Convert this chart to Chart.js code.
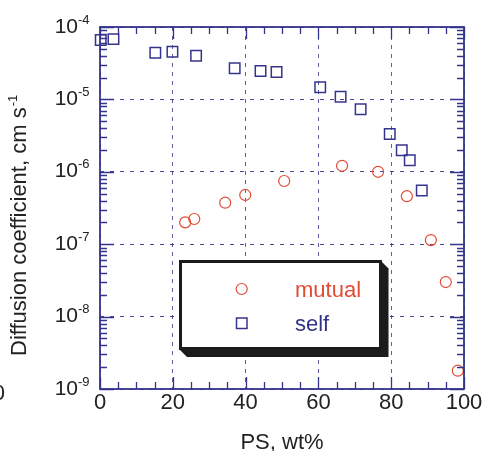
<!DOCTYPE html>
<html>
<head>
<meta charset="utf-8">
<script src="https://cdn.jsdelivr.net/npm/chart.js@4/dist/chart.umd.min.js"></script>
<style>
  html, body { margin: 0; padding: 0; background: #fff; }
  canvas { display: block; }
</style>
</head>
<body>
<canvas id="chart" width="486" height="451"></canvas>
<script>
// PS wt% / diffusion coefficient (cm2 s-1)
const mutualX = [23.4, 25.9, 34.4, 39.9, 50.6, 66.5, 76.4, 84.3, 90.9, 95.0, 98.3];
const mutualY = [2.0e-7, 2.23e-7, 3.74e-7, 4.79e-7, 7.46e-7, 1.21e-6, 1.0e-6, 4.6e-7, 1.14e-7, 3.0e-8, 1.79e-9];
const selfX = [0.2, 3.7, 15.2, 19.9, 26.4, 37.0, 44.1, 48.5, 60.5, 66.1, 71.6, 79.6, 82.9, 85.1, 88.4];
const selfY = [6.6e-5, 6.8e-5, 4.4e-5, 4.56e-5, 4.0e-5, 2.7e-5, 2.47e-5, 2.39e-5, 1.47e-5, 1.09e-5, 7.3e-6, 3.33e-6, 1.98e-6, 1.44e-6, 5.5e-7];
const seriesNames = ["mutual", "self"];
const xTicks = [0, 20, 40, 60, 80, 100];
const yExponents = [-4, -5, -6, -7, -8, -9];
const xTitle = "PS, wt%";
const yTitle = "Diffusion coefficient, cm s";
const yTitleSup = "-1";

const RED = "#e24a34";
const NAVY = "#34348c";
const TEXT = "#222";
const FONT = "'Liberation Sans', Arial, sans-serif";

const toPoints = (xs, ys) => xs.map((x, i) => ({ x, y: ys[i] }));

// ticks, frame, labels, titles and legend box
const decor = {
  id: "decor",
  afterDatasetsDraw(chart) {
    const { ctx, chartArea: a } = chart;
    const xs = chart.scales.x;
    const ys = chart.scales.y;
    ctx.save();
    ctx.strokeStyle = NAVY;
    ctx.lineWidth = 1.3;
    ctx.beginPath();
    // x minor / major ticks on top and bottom
    for (let v = 0; v <= 100; v += 5) {
      const px = Math.round(xs.getPixelForValue(v)) + 0.5;
      const len = v % 20 === 0 ? 12 : 7;
      ctx.moveTo(px, a.bottom); ctx.lineTo(px, a.bottom - len);
      ctx.moveTo(px, a.top); ctx.lineTo(px, a.top + len);
    }
    // y ticks on left and right
    for (let e = -9; e <= -4; e++) {
      for (let m = 1; m <= 9; m++) {
        const v = m * Math.pow(10, e);
        if (v > 1.0001e-4) break;
        const py = Math.round(ys.getPixelForValue(v)) + 0.5;
        const len = m === 1 ? 14 : 7;
        ctx.moveTo(a.left, py); ctx.lineTo(a.left + len, py);
        ctx.moveTo(a.right, py); ctx.lineTo(a.right - len, py);
      }
    }
    ctx.stroke();
    // frame
    ctx.lineWidth = 1.8;
    ctx.strokeRect(a.left, a.top, a.right - a.left, a.bottom - a.top);

    // tick labels
    ctx.fillStyle = TEXT;
    ctx.font = "22px " + FONT;
    ctx.textAlign = "center";
    ctx.textBaseline = "alphabetic";
    xTicks.forEach((v) => {
      ctx.fillText(String(v), xs.getPixelForValue(v), a.bottom + 20);
    });
    yExponents.forEach((e) => {
      const py = ys.getPixelForValue(Math.pow(10, e));
      ctx.font = "21px " + FONT;
      ctx.textAlign = "right";
      ctx.fillText("10", 78, py + 5.5);
      ctx.font = "13px " + FONT;
      ctx.textAlign = "left";
      ctx.fillText(String(e), 78, py - 3.5);
    });

    // axis titles
    ctx.font = "22px " + FONT;
    ctx.textAlign = "center";
    ctx.fillText(xTitle, (a.left + a.right) / 2, 449);
    ctx.save();
    ctx.translate(26, 356);
    ctx.rotate(-Math.PI / 2);
    ctx.textAlign = "left";
    ctx.fillText(yTitle, 0, 0);
    const w = ctx.measureText(yTitle).width;
    ctx.font = "13px " + FONT;
    ctx.fillText(yTitleSup, w + 1, -9);
    ctx.restore();

    // stray label at the far left edge
    ctx.font = "22px " + FONT;
    ctx.textAlign = "right";
    ctx.fillText("0", 5, 400);

    // legend box with shadow
    ctx.fillStyle = "#1b1b1b";
    ctx.beginPath();
    ctx.moveTo(180, 261); ctx.lineTo(381, 261); ctx.lineTo(388.5, 268.5);
    ctx.lineTo(388.5, 357); ctx.lineTo(187, 357); ctx.lineTo(180, 350);
    ctx.closePath();
    ctx.fill();
    ctx.fillStyle = "#fff";
    ctx.fillRect(180.5, 261.5, 200, 87);
    ctx.strokeStyle = "#1b1b1b";
    ctx.lineWidth = 3;
    ctx.strokeRect(180.5, 261.5, 200, 87);

    const ds = chart.data.datasets;
    ctx.lineWidth = 1.2;
    ctx.strokeStyle = ds[0].borderColor;
    ctx.beginPath();
    ctx.arc(241.7, 289, 5.5, 0, Math.PI * 2);
    ctx.stroke();
    ctx.lineWidth = 1.5;
    ctx.strokeStyle = ds[1].borderColor;
    ctx.strokeRect(236.5, 318, 10.5, 10.5);
    ctx.font = "22px " + FONT;
    ctx.textAlign = "left";
    ctx.fillStyle = ds[0].borderColor;
    ctx.fillText(ds[0].label, 295, 296.5);
    ctx.fillStyle = ds[1].borderColor;
    ctx.fillText(ds[1].label, 295, 331);
    ctx.restore();
  },
};

new Chart(document.getElementById("chart"), {
  type: "scatter",
  data: {
    datasets: [
      {
        label: seriesNames[0],
        data: toPoints(mutualX, mutualY),
        pointStyle: "circle",
        pointRadius: 5.5,
        borderWidth: 1.2,
        borderColor: RED,
        backgroundColor: "rgba(0,0,0,0)",
        clip: false,
      },
      {
        label: seriesNames[1],
        data: toPoints(selfX, selfY),
        pointStyle: "rect",
        pointRadius: 7.4,
        borderWidth: 1.5,
        borderColor: NAVY,
        backgroundColor: "rgba(0,0,0,0)",
        clip: false,
      },
    ],
  },
  options: {
    responsive: false,
    animation: false,
    events: [],
    layout: { padding: { left: 0, right: 22, top: 27, bottom: 0 } },
    plugins: { legend: { display: false }, tooltip: { enabled: false } },
    scales: {
      x: {
        type: "linear",
        min: 0,
        max: 100,
        ticks: { display: false, stepSize: 20 },
        grid: { color: "rgba(52,52,140,0.8)", lineWidth: 1, drawTicks: false },
        border: { display: false, dash: [4, 5] },
        afterFit: (s) => { s.height = 62; },
      },
      y: {
        type: "logarithmic",
        min: 1e-9,
        max: 1e-4,
        ticks: { display: false },
        afterBuildTicks: (s) => {
          s.ticks = yExponents.map((e) => ({ value: Math.pow(10, e) }));
        },
        grid: { color: "rgba(52,52,140,0.9)", lineWidth: 1, drawTicks: false },
        border: { display: false, dash: [4, 6] },
        afterFit: (s) => { s.width = 100; },
      },
    },
  },
  plugins: [decor],
});
</script>
</body>
</html>
